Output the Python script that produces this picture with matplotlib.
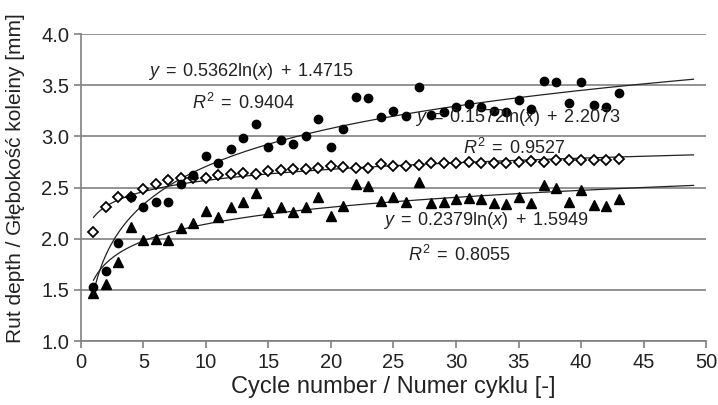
import numpy as np
import matplotlib
matplotlib.use("Agg")
import matplotlib.pyplot as plt

plt.rcParams['font.family'] = ['Liberation Sans', 'DejaVu Sans']
plt.rcParams['mathtext.fontset'] = 'custom'
plt.rcParams['mathtext.rm'] = 'Liberation Sans'
plt.rcParams['mathtext.it'] = 'Liberation Sans:italic'
plt.rcParams['mathtext.sf'] = 'Liberation Sans'

cycles = list(range(1, 44))

series_circle = [1.53, 1.68, 1.96, 2.41, 2.31, 2.36, 2.36, 2.53, 2.62, 2.81,
                 2.74, 2.88, 2.98, 3.12, 2.90, 2.96, 2.93, 3.00, 3.17, 2.90,
                 3.07, 3.38, 3.37, 3.19, 3.25, 3.20, 3.48, 3.21, 3.24, 3.29,
                 3.32, 3.29, 3.25, 3.24, 3.36, 3.27, 3.54, 3.53, 3.33, 3.53,
                 3.31, 3.29, 3.42]

series_diamond = [2.07, 2.31, 2.41, 2.41, 2.49, 2.53, 2.57, 2.59, 2.59, 2.59,
                  2.62, 2.63, 2.64, 2.63, 2.66, 2.67, 2.68, 2.68, 2.69, 2.71,
                  2.70, 2.69, 2.69, 2.73, 2.71, 2.71, 2.72, 2.74, 2.74, 2.74,
                  2.75, 2.74, 2.74, 2.74, 2.75, 2.76, 2.75, 2.77, 2.77, 2.77,
                  2.77, 2.77, 2.78]

series_triangle = [1.47, 1.56, 1.77, 2.11, 1.99, 2.00, 1.99, 2.10, 2.15, 2.27,
                   2.21, 2.31, 2.36, 2.45, 2.26, 2.31, 2.26, 2.31, 2.41, 2.22,
                   2.32, 2.53, 2.51, 2.37, 2.41, 2.36, 2.55, 2.35, 2.36, 2.39,
                   2.40, 2.39, 2.35, 2.34, 2.41, 2.35, 2.52, 2.50, 2.36, 2.48,
                   2.33, 2.32, 2.39]

# trend line coefficients (a*ln(x) + b)
trend_circle = (0.5362, 1.4715)
trend_diamond = (0.1572, 2.2073)
trend_triangle = (0.2379, 1.5949)
trend_range = (1, 49)

eq_labels = [r'$y\;=\;0.5362\mathrm{ln}(x)\;+\;1.4715$', r'$R^2\;=\;0.9404$',
             r'$y\;=\;0.1572\mathrm{ln}(x)\;+\;2.2073$', r'$R^2\;=\;0.9527$',
             r'$y\;=\;0.2379\mathrm{ln}(x)\;+\;1.5949$', r'$R^2\;=\;0.8055$']
eq_pos = [(13.6, 3.63), (13.0, 3.33), (34.9, 3.18), (34.7, 2.89),
          (32.4, 2.18), (30.3, 1.84)]

fig = plt.figure(figsize=(7.18, 4.05), dpi=100)
ax = fig.add_axes([0.1128, 0.158, 0.8705, 0.758])

ax.set_xlim(0, 50)
ax.set_ylim(1.0, 4.0)
ax.set_xticks(range(0, 51, 5))
ax.set_yticks([1.0, 1.5, 2.0, 2.5, 3.0, 3.5, 4.0])
ax.set_yticklabels([f'{v:.1f}' for v in [1.0, 1.5, 2.0, 2.5, 3.0, 3.5, 4.0]])
ax.yaxis.grid(True, color='#808080', lw=1.2)
ax.set_axisbelow(True)
for s in ['top', 'right']:
    ax.spines[s].set_visible(False)
for s in ['left', 'bottom']:
    ax.spines[s].set_color('#808080')
    ax.spines[s].set_linewidth(1.2)
ax.tick_params(axis='both', colors='#808080', labelcolor='#222222',
               labelsize=14.5, length=5, width=1.2, direction='out')

xs = np.linspace(trend_range[0], trend_range[1], 300)
for a, b in [trend_circle, trend_diamond, trend_triangle]:
    ax.plot(xs, a * np.log(xs) + b, color='#222222', lw=0.9, zorder=2)

ax.plot(cycles, series_diamond, linestyle='none', marker='D', markersize=5.5,
        markerfacecolor='white', markeredgecolor='black', markeredgewidth=1.3, zorder=3)
ax.plot(cycles, series_circle, linestyle='none', marker='o', markersize=6,
        color='black', zorder=4)
ax.plot(cycles, series_triangle, linestyle='none', marker='^', markersize=7,
        color='black', zorder=4)

for lab, (x, y) in zip(eq_labels, eq_pos):
    ax.text(x, y, lab, ha='center', va='center', fontsize=13, color='#222222', zorder=5)

ax.set_xlabel('Cycle number / Numer cyklu [-]', fontsize=17, color='#222222', labelpad=3)
ax.set_ylabel('Rut depth / Głębokość koleiny [mm]', fontsize=15, color='#222222')
ax.yaxis.set_label_coords(-0.09, 0.53)

fig.savefig('out.png', dpi=100)
